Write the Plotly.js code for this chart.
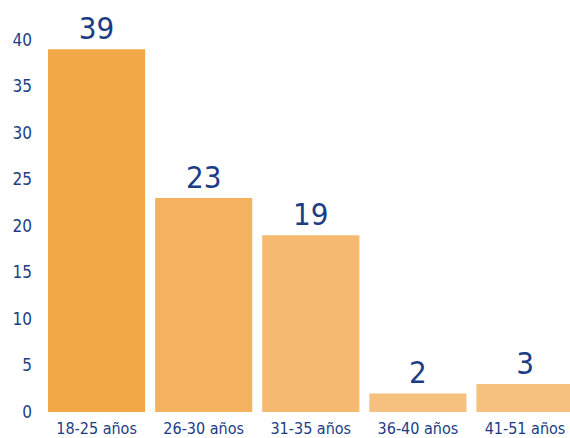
<!DOCTYPE html>
<html>
<head>
<meta charset="utf-8">
<script src="https://cdn.plot.ly/plotly-3.0.1.min.js"></script>
<style>html,body{margin:0;padding:0;background:#fff;}#chart{width:570px;height:438px;}</style>
</head>
<body>
<div id="chart"></div>
<script>
const categories = ["18-25 años", "26-30 años", "31-35 años", "36-40 años", "41-51 años"];
const values = [39, 23, 19, 2, 3];
const barColors = ["#F3A847", "#F4B15E", "#F5BA70", "#F6C17F", "#F6C17F"];
const yTicks = [0, 5, 10, 15, 20, 25, 30, 35, 40];

const textColor = "#1B3D86";
const fontFam = "'Liberation Sans Narrow', 'DejaVu Sans Condensed', Arial, sans-serif";

Plotly.newPlot("chart", [{
  type: "bar",
  x: categories,
  y: values,
  marker: {color: barColors, line: {width: 0}},
  text: values.map(String),
  textposition: "outside",
  cliponaxis: false,
  constraintext: "none",
  textfont: {family: fontFam, size: 31, color: textColor},
  hoverinfo: "none"
}], {
  width: 570, height: 438,
  margin: {l: 43, r: 0, t: 40, b: 26},
  paper_bgcolor: "#fff", plot_bgcolor: "#fff",
  bargap: 0.093,
  showlegend: false,
  xaxis: {
    range: [-0.5, 4.42],
    showgrid: false, zeroline: false, showline: false,
    ticks: "", ticklabelstandoff: 5,
    tickfont: {family: fontFam, size: 16, color: textColor}
  },
  yaxis: {
    range: [0, 40],
    tickvals: yTicks,
    showgrid: false, zeroline: false, showline: false,
    ticks: "", ticklabelstandoff: 10,
    tickfont: {family: fontFam, size: 17, color: textColor}
  }
}, {displayModeBar: false, staticPlot: true});
</script>
</body>
</html>
